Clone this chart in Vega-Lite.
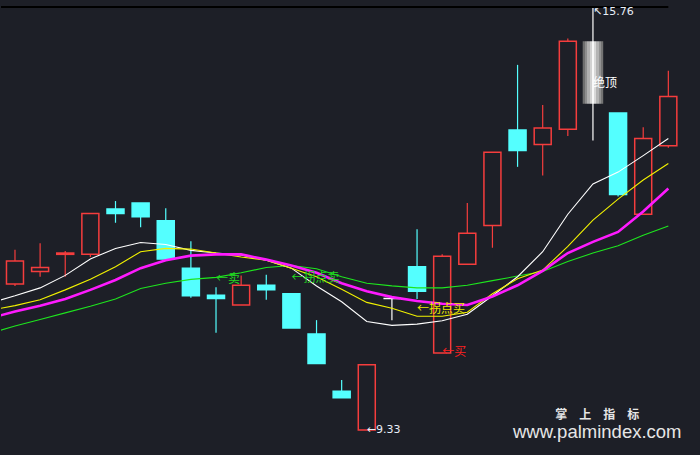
{
  "$schema": "https://vega.github.io/schema/vega-lite/v6.json",
  "width": 700,
  "height": 455,
  "padding": 0,
  "autosize": {"type": "fit", "contains": "padding"},
  "background": "#1d1f27",
  "config": {"view": {"stroke": null}, "scale": {"continuousPadding": 0}},
  "datasets": {
    "candles": [
      {"i": 1, "o": 11.55, "h": 12.07, "l": 11.52, "c": 11.90, "k": "up"},
      {"i": 2, "o": 11.74, "h": 12.17, "l": 11.66, "c": 11.80, "k": "up"},
      {"i": 3, "o": 12.00, "h": 12.05, "l": 11.66, "c": 12.02, "k": "up"},
      {"i": 4, "o": 12.00, "h": 12.63, "l": 11.96, "c": 12.62, "k": "up"},
      {"i": 5, "o": 12.69, "h": 12.81, "l": 12.48, "c": 12.62, "k": "down"},
      {"i": 6, "o": 12.78, "h": 12.78, "l": 12.41, "c": 12.57, "k": "down"},
      {"i": 7, "o": 12.51, "h": 12.70, "l": 11.93, "c": 11.93, "k": "down"},
      {"i": 8, "o": 11.79, "h": 12.20, "l": 11.34, "c": 11.37, "k": "down"},
      {"i": 9, "o": 11.38, "h": 11.50, "l": 10.81, "c": 11.33, "k": "down"},
      {"i": 10, "o": 11.23, "h": 11.68, "l": 11.23, "c": 11.53, "k": "up"},
      {"i": 11, "o": 11.53, "h": 11.69, "l": 11.31, "c": 11.46, "k": "down"},
      {"i": 12, "o": 11.40, "h": 11.40, "l": 10.88, "c": 10.88, "k": "down"},
      {"i": 13, "o": 10.79, "h": 11.00, "l": 10.34, "c": 10.34, "k": "down"},
      {"i": 14, "o": 9.92, "h": 10.09, "l": 9.82, "c": 9.82, "k": "down"},
      {"i": 15, "o": 9.33, "h": 10.32, "l": 9.33, "c": 10.32, "k": "up"},
      {"i": 16, "o": 11.33, "h": 11.33, "l": 11.00, "c": 11.33, "k": "doji"},
      {"i": 17, "o": 11.81, "h": 12.38, "l": 11.32, "c": 11.44, "k": "down"},
      {"i": 18, "o": 10.50, "h": 12.00, "l": 10.50, "c": 11.97, "k": "up"},
      {"i": 19, "o": 11.85, "h": 12.78, "l": 11.85, "c": 12.32, "k": "up"},
      {"i": 20, "o": 12.44, "h": 13.55, "l": 12.10, "c": 13.55, "k": "up"},
      {"i": 21, "o": 13.89, "h": 14.88, "l": 13.33, "c": 13.58, "k": "down"},
      {"i": 22, "o": 13.67, "h": 14.27, "l": 13.20, "c": 13.92, "k": "up"},
      {"i": 23, "o": 13.90, "h": 15.28, "l": 13.80, "c": 15.24, "k": "up"},
      {"i": 24, "o": 15.24, "h": 15.76, "l": 13.73, "c": 14.29, "k": "top"},
      {"i": 25, "o": 14.15, "h": 14.15, "l": 12.88, "c": 12.91, "k": "down"},
      {"i": 26, "o": 12.61, "h": 13.93, "l": 12.61, "c": 13.76, "k": "up"},
      {"i": 27, "o": 13.65, "h": 14.79, "l": 13.62, "c": 14.40, "k": "up"}
    ],
    "ma": [
      {"s": "g", "i": 0, "v": 10.80}, {"s": "g", "i": 1, "v": 10.91}, {"s": "g", "i": 2, "v": 11.01}, {"s": "g", "i": 3, "v": 11.11},
      {"s": "g", "i": 4, "v": 11.21}, {"s": "g", "i": 5, "v": 11.32}, {"s": "g", "i": 6, "v": 11.48}, {"s": "g", "i": 7, "v": 11.56},
      {"s": "g", "i": 8, "v": 11.62}, {"s": "g", "i": 9, "v": 11.65}, {"s": "g", "i": 10, "v": 11.72}, {"s": "g", "i": 11, "v": 11.80},
      {"s": "g", "i": 12, "v": 11.83}, {"s": "g", "i": 13, "v": 11.78}, {"s": "g", "i": 14, "v": 11.66}, {"s": "g", "i": 15, "v": 11.56},
      {"s": "g", "i": 16, "v": 11.52}, {"s": "g", "i": 17, "v": 11.49}, {"s": "g", "i": 18, "v": 11.49}, {"s": "g", "i": 19, "v": 11.53},
      {"s": "g", "i": 20, "v": 11.60}, {"s": "g", "i": 21, "v": 11.67}, {"s": "g", "i": 22, "v": 11.74}, {"s": "g", "i": 23, "v": 11.89},
      {"s": "g", "i": 24, "v": 12.02}, {"s": "g", "i": 25, "v": 12.13}, {"s": "g", "i": 26, "v": 12.29}, {"s": "g", "i": 27, "v": 12.43},
      {"s": "w", "i": 0, "v": 11.26}, {"s": "w", "i": 1, "v": 11.37}, {"s": "w", "i": 2, "v": 11.49}, {"s": "w", "i": 3, "v": 11.68},
      {"s": "w", "i": 4, "v": 11.93}, {"s": "w", "i": 5, "v": 12.09}, {"s": "w", "i": 6, "v": 12.18}, {"s": "w", "i": 7, "v": 12.15},
      {"s": "w", "i": 8, "v": 12.06}, {"s": "w", "i": 9, "v": 12.02}, {"s": "w", "i": 10, "v": 11.99}, {"s": "w", "i": 11, "v": 11.91},
      {"s": "w", "i": 12, "v": 11.79}, {"s": "w", "i": 13, "v": 11.52}, {"s": "w", "i": 14, "v": 11.28}, {"s": "w", "i": 15, "v": 10.98},
      {"s": "w", "i": 16, "v": 10.92}, {"s": "w", "i": 17, "v": 10.94}, {"s": "w", "i": 18, "v": 10.99}, {"s": "w", "i": 19, "v": 11.09},
      {"s": "w", "i": 20, "v": 11.37}, {"s": "w", "i": 21, "v": 11.66}, {"s": "w", "i": 22, "v": 12.04}, {"s": "w", "i": 23, "v": 12.61},
      {"s": "w", "i": 24, "v": 13.07}, {"s": "w", "i": 25, "v": 13.25}, {"s": "w", "i": 26, "v": 13.50}, {"s": "w", "i": 27, "v": 13.76},
      {"s": "y", "i": 0, "v": 11.15}, {"s": "y", "i": 1, "v": 11.22}, {"s": "y", "i": 2, "v": 11.31}, {"s": "y", "i": 3, "v": 11.46},
      {"s": "y", "i": 4, "v": 11.62}, {"s": "y", "i": 5, "v": 11.81}, {"s": "y", "i": 6, "v": 12.04}, {"s": "y", "i": 7, "v": 12.09},
      {"s": "y", "i": 8, "v": 12.08}, {"s": "y", "i": 9, "v": 12.02}, {"s": "y", "i": 10, "v": 11.96}, {"s": "y", "i": 11, "v": 11.91},
      {"s": "y", "i": 12, "v": 11.79}, {"s": "y", "i": 13, "v": 11.66}, {"s": "y", "i": 14, "v": 11.47}, {"s": "y", "i": 15, "v": 11.27},
      {"s": "y", "i": 16, "v": 11.18}, {"s": "y", "i": 17, "v": 11.06}, {"s": "y", "i": 18, "v": 11.06}, {"s": "y", "i": 19, "v": 11.12},
      {"s": "y", "i": 20, "v": 11.40}, {"s": "y", "i": 21, "v": 11.63}, {"s": "y", "i": 22, "v": 11.76}, {"s": "y", "i": 23, "v": 12.12},
      {"s": "y", "i": 24, "v": 12.52}, {"s": "y", "i": 25, "v": 12.84}, {"s": "y", "i": 26, "v": 13.13}, {"s": "y", "i": 27, "v": 13.38}
    ],
    "ma20": [
      {"i": 0, "v": 11.03}, {"i": 1, "v": 11.13}, {"i": 2, "v": 11.22}, {"i": 3, "v": 11.32},
      {"i": 4, "v": 11.46}, {"i": 5, "v": 11.61}, {"i": 6, "v": 11.79}, {"i": 7, "v": 11.91},
      {"i": 8, "v": 11.98}, {"i": 9, "v": 12.00}, {"i": 10, "v": 12.00}, {"i": 11, "v": 11.92},
      {"i": 12, "v": 11.83}, {"i": 13, "v": 11.72}, {"i": 14, "v": 11.56}, {"i": 15, "v": 11.44},
      {"i": 16, "v": 11.35}, {"i": 17, "v": 11.29}, {"i": 18, "v": 11.25}, {"i": 19, "v": 11.23},
      {"i": 20, "v": 11.36}, {"i": 21, "v": 11.53}, {"i": 22, "v": 11.75}, {"i": 23, "v": 12.02},
      {"i": 24, "v": 12.19}, {"i": 25, "v": 12.34}, {"i": 26, "v": 12.65}, {"i": 27, "v": 13.00}
    ],
    "notes": [
      {"i": 9, "p": 11.63, "t": "←卖", "k": "g"},
      {"i": 12, "p": 11.64, "t": "←拐点卖", "k": "g"},
      {"i": 17, "p": 11.17, "t": "←拐点买", "k": "y"},
      {"i": 18, "p": 10.52, "t": "←买", "k": "r"},
      {"i": 24, "p": 14.61, "t": "绝顶", "k": "w"}
    ],
    "marks": [
      {"i": 15, "p": 9.33, "t": "←9.33"},
      {"i": 24, "p": 15.68, "t": "↖15.76"}
    ],
    "peak": [
      {"i0": 0.4437, "i1": 27, "p": 15.76}
    ],
    "brand": [
      {"i": 24.17, "p": 9.56, "t": "掌　上　指　标", "f": "cn"},
      {"i": 24.17, "p": 9.30, "t": "www.palmindex.com", "f": "url"}
    ]
  },
  "resolve": {"scale": {"color": "independent", "fill": "independent", "stroke": "independent"}},
  "layer": [
    {
      "data": {"name": "candles"},
      "mark": {"type": "rule", "strokeWidth": 1.2},
      "encoding": {
        "x": {"field": "i", "type": "quantitative", "scale": {"domain": [0.4437, 28.26], "nice": false, "zero": false, "padding": 0}, "axis": null},
        "y": {"field": "l", "type": "quantitative", "scale": {"domain": [8.95, 15.866], "nice": false, "zero": false, "padding": 0},
              "axis": {"values": [9, 9.5, 10, 10.5, 11, 11.5, 12, 12.5, 13, 13.5, 14, 14.5, 15, 15.5], "grid": true, "gridColor": "#353841", "gridDash": [3, 2], "gridWidth": 1, "labels": false, "ticks": false, "domain": false, "title": null}},
        "y2": {"field": "h"},
        "color": {"field": "k", "type": "nominal", "scale": {"domain": ["up", "down", "doji", "top"], "range": ["#f53d3d", "#54ffff", "#ffffff", "#ffffff"]}, "legend": null}
      }
    },
    {
      "data": {"name": "candles"},
      "transform": [{"filter": "datum.k != 'top'"}],
      "mark": {"type": "bar", "size": 17, "strokeWidth": 1.5},
      "encoding": {
        "x": {"field": "i", "type": "quantitative", "scale": {"domain": [0.4437, 28.26], "nice": false, "zero": false, "padding": 0}, "axis": null},
        "y": {"field": "o", "type": "quantitative", "scale": {"domain": [8.95, 15.866], "nice": false, "zero": false, "padding": 0}, "axis": null},
        "y2": {"field": "c"},
        "fill": {"field": "k", "type": "nominal", "scale": {"domain": ["up", "down", "doji"], "range": ["#1d1f27", "#54ffff", "#ffffff"]}, "legend": null},
        "stroke": {"field": "k", "type": "nominal", "scale": {"domain": ["up", "down", "doji"], "range": ["#f53d3d", "#54ffff", "#ffffff"]}, "legend": null}
      }
    },
    {
      "data": {"name": "candles"},
      "transform": [{"filter": "datum.k == 'top'"}],
      "mark": {"type": "bar", "size": 20.5,
        "fill": {"gradient": "linear", "x1": 0, "y1": 0, "x2": 1, "y2": 0, "stops": [
          {"offset": 0, "color": "#6e6e6e"}, {"offset": 0.111, "color": "#6e6e6e"},
          {"offset": 0.111, "color": "#8e8e8e"}, {"offset": 0.222, "color": "#8e8e8e"},
          {"offset": 0.222, "color": "#b0b0b0"}, {"offset": 0.333, "color": "#b0b0b0"},
          {"offset": 0.333, "color": "#d2d2d2"}, {"offset": 0.444, "color": "#d2d2d2"},
          {"offset": 0.444, "color": "#f8f8f8"}, {"offset": 0.556, "color": "#f8f8f8"},
          {"offset": 0.556, "color": "#d8d8d8"}, {"offset": 0.667, "color": "#d8d8d8"},
          {"offset": 0.667, "color": "#b4b4b4"}, {"offset": 0.778, "color": "#b4b4b4"},
          {"offset": 0.778, "color": "#949494"}, {"offset": 0.889, "color": "#949494"},
          {"offset": 0.889, "color": "#747474"}, {"offset": 1, "color": "#747474"}
        ]}},
      "encoding": {
        "x": {"field": "i", "type": "quantitative", "scale": {"domain": [0.4437, 28.26], "nice": false, "zero": false, "padding": 0}, "axis": null},
        "y": {"field": "o", "type": "quantitative", "scale": {"domain": [8.95, 15.866], "nice": false, "zero": false, "padding": 0}, "axis": null},
        "y2": {"field": "c"}
      }
    },
    {
      "data": {"name": "ma"},
      "mark": {"type": "line", "clip": true, "strokeWidth": 1.1},
      "encoding": {
        "x": {"field": "i", "type": "quantitative", "scale": {"domain": [0.4437, 28.26], "nice": false, "zero": false, "padding": 0}, "axis": null},
        "y": {"field": "v", "type": "quantitative", "scale": {"domain": [8.95, 15.866], "nice": false, "zero": false, "padding": 0}, "axis": null},
        "color": {"field": "s", "type": "nominal", "scale": {"domain": ["g", "w", "y"], "range": ["#1ee61e", "#ffffff", "#f2f200"]}, "legend": null}
      }
    },
    {
      "data": {"name": "ma20"},
      "mark": {"type": "line", "clip": true, "strokeWidth": 2.6, "color": "#ff1aff"},
      "encoding": {
        "x": {"field": "i", "type": "quantitative", "scale": {"domain": [0.4437, 28.26], "nice": false, "zero": false, "padding": 0}, "axis": null},
        "y": {"field": "v", "type": "quantitative", "scale": {"domain": [8.95, 15.866], "nice": false, "zero": false, "padding": 0}, "axis": null}
      }
    },
    {
      "data": {"name": "peak"},
      "mark": {"type": "rule", "color": "#000000", "strokeWidth": 2},
      "encoding": {
        "x": {"field": "i0", "type": "quantitative", "scale": {"domain": [0.4437, 28.26], "nice": false, "zero": false, "padding": 0}, "axis": null},
        "x2": {"field": "i1"},
        "y": {"field": "p", "type": "quantitative", "scale": {"domain": [8.95, 15.866], "nice": false, "zero": false, "padding": 0}, "axis": null}
      }
    },
    {
      "data": {"name": "notes"},
      "mark": {"type": "text", "align": "left", "baseline": "middle", "font": "Noto Sans CJK SC", "fontSize": 12},
      "encoding": {
        "x": {"field": "i", "type": "quantitative", "scale": {"domain": [0.4437, 28.26], "nice": false, "zero": false, "padding": 0}, "axis": null},
        "y": {"field": "p", "type": "quantitative", "scale": {"domain": [8.95, 15.866], "nice": false, "zero": false, "padding": 0}, "axis": null},
        "text": {"field": "t"},
        "color": {"field": "k", "type": "nominal", "scale": {"domain": ["g", "y", "r", "w"], "range": ["#22d822", "#e8e800", "#ff2020", "#ffffff"]}, "legend": null}
      }
    },
    {
      "data": {"name": "marks"},
      "mark": {"type": "text", "align": "left", "baseline": "middle", "font": "DejaVu Sans", "fontSize": 11, "color": "#e8eef8"},
      "encoding": {
        "x": {"field": "i", "type": "quantitative", "scale": {"domain": [0.4437, 28.26], "nice": false, "zero": false, "padding": 0}, "axis": null},
        "y": {"field": "p", "type": "quantitative", "scale": {"domain": [8.95, 15.866], "nice": false, "zero": false, "padding": 0}, "axis": null},
        "text": {"field": "t"}
      }
    },
    {
      "data": {"name": "brand"},
      "transform": [{"filter": "datum.f == 'cn'"}],
      "mark": {"type": "text", "align": "center", "baseline": "middle", "font": "Noto Sans CJK SC", "fontSize": 12, "fontWeight": "bold", "color": "#e6e6e6"},
      "encoding": {
        "x": {"field": "i", "type": "quantitative", "scale": {"domain": [0.4437, 28.26], "nice": false, "zero": false, "padding": 0}, "axis": null},
        "y": {"field": "p", "type": "quantitative", "scale": {"domain": [8.95, 15.866], "nice": false, "zero": false, "padding": 0}, "axis": null},
        "text": {"field": "t"}
      }
    },
    {
      "data": {"name": "brand"},
      "transform": [{"filter": "datum.f == 'url'"}],
      "mark": {"type": "text", "align": "center", "baseline": "middle", "font": "Liberation Sans", "fontSize": 18.5, "color": "#e6e6e6"},
      "encoding": {
        "x": {"field": "i", "type": "quantitative", "scale": {"domain": [0.4437, 28.26], "nice": false, "zero": false, "padding": 0}, "axis": null},
        "y": {"field": "p", "type": "quantitative", "scale": {"domain": [8.95, 15.866], "nice": false, "zero": false, "padding": 0}, "axis": null},
        "text": {"field": "t"}
      }
    }
  ]
}
